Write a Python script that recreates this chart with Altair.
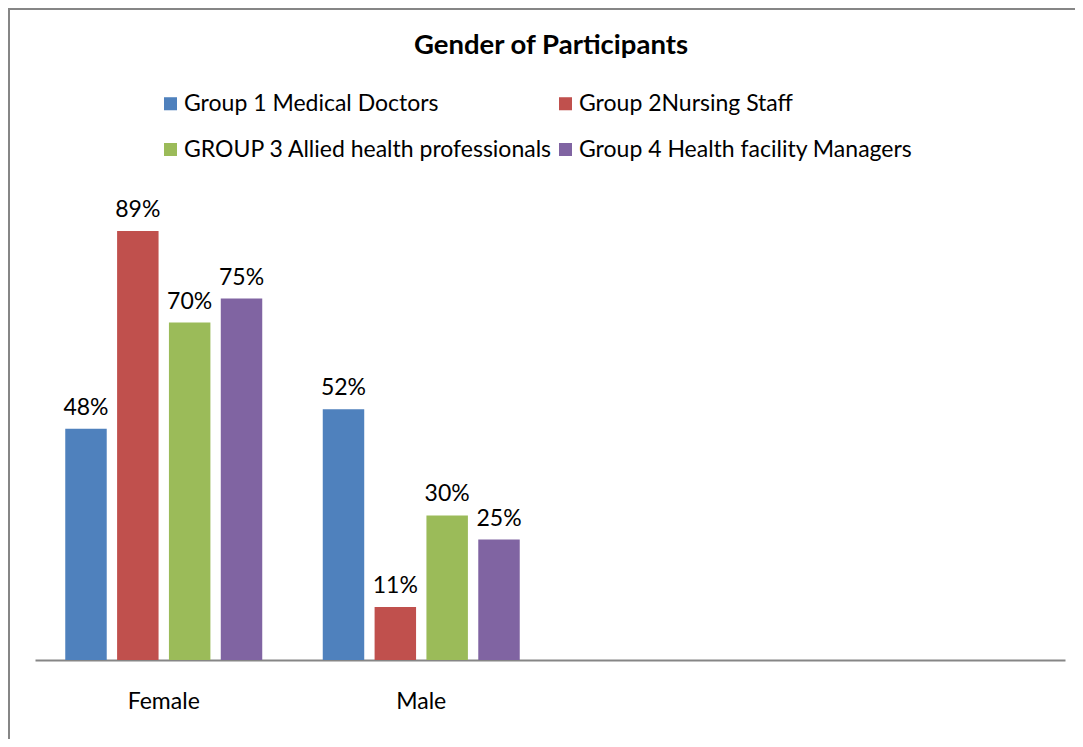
import altair as alt
import pandas as pd

title_text = "Gender of Participants"
categories = ["Female", "Male"]
axis_slots = ["Female", "Male", " ", "  "]
groups = [
    "Group 1 Medical Doctors",
    "Group 2Nursing Staff",
    "GROUP 3 Allied health professionals",
    "Group 4 Health facility Managers",
]
female_values = [0.48, 0.89, 0.70, 0.75]
male_values = [0.52, 0.11, 0.30, 0.25]
colors = ["#4F81BD", "#C0504D", "#9BBB59", "#8064A2"]

rows = []
for g, fv, mv in zip(groups, female_values, male_values):
    rows.append({"category": "Female", "group": g, "value": fv})
    rows.append({"category": "Male", "group": g, "value": mv})
df = pd.DataFrame(rows)

FONT = "Lato"
FS = 23

x_enc = alt.X(
    "category:N",
    scale=alt.Scale(domain=axis_slots, paddingInner=0.235, paddingOuter=0.1175),
    axis=alt.Axis(
        title=None, ticks=False, labelAngle=0, labelFontSize=FS, labelFont=FONT,
        labelColor="#000000", labelPadding=30, domainColor="#868686",
        domainWidth=2, grid=False,
    ),
)
xo_enc = alt.XOffset(
    "group:N", scale=alt.Scale(domain=groups, paddingInner=0.2, paddingOuter=0)
)
y_enc = alt.Y("value:Q", scale=alt.Scale(domain=[0, 1]), axis=None)

base = alt.Chart(df)

bars = base.mark_bar().encode(
    x=x_enc,
    xOffset=xo_enc,
    y=y_enc,
    color=alt.Color(
        "group:N",
        scale=alt.Scale(domain=groups, range=colors),
        legend=alt.Legend(
            orient="none", legendX=124, legendY=-86, columns=2, direction="horizontal",
            title=None, labelFontSize=FS, labelFont=FONT, labelColor="#000000",
            labelLimit=500, symbolType="square", symbolSize=170, symbolStrokeWidth=0,
            rowPadding=22, columnPadding=1, labelOffset=2, padding=0,
        ),
    ),
)

labels = base.mark_text(
    fontSize=FS, font=FONT, color="#000000", baseline="alphabetic", dy=-14
).encode(
    x=x_enc,
    xOffset=xo_enc,
    y=y_enc,
    text=alt.Text("value:Q", format=".0%"),
)

title = alt.Chart(pd.DataFrame({"t": [title_text]})).mark_text(
    fontSize=27.5, font=FONT, fontWeight="bold", color="#000000", baseline="middle"
).encode(text="t:N", x=alt.value(516), y=alt.value(-132))

border = alt.Chart(pd.DataFrame({"a": [0]})).mark_rect(
    fill="transparent", stroke="#868686", strokeWidth=2
).encode(
    x=alt.value(-26), x2=alt.value(1100), y=alt.value(-169), y2=alt.value(700)
)

chart = alt.layer(border, bars, labels, title).properties(
    width=1030,
    height=482,
    autosize=alt.AutoSizeParams(type="none"),
    padding={"left": 27, "top": 170, "right": 10, "bottom": 79},
).configure_view(stroke=None)

chart.save("out.html", embed_options={"renderer": "svg", "actions": False})
